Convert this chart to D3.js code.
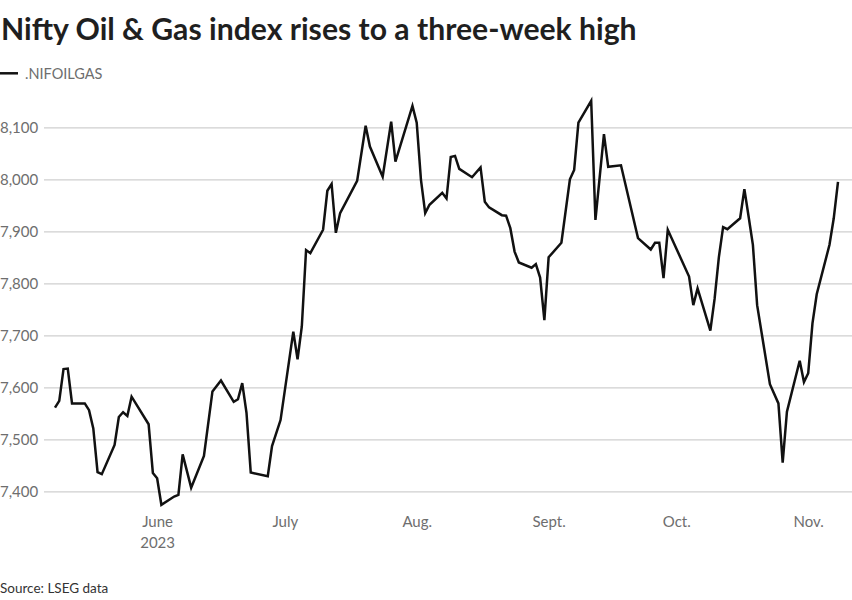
<!DOCTYPE html>
<html>
<head>
<meta charset="utf-8">
<script src="https://cdn.jsdelivr.net/npm/d3@7"></script>
<style>
  body { margin: 0; background: #fff; }
  svg { display: block; font-family: Lato, "Open Sans", sans-serif; }
</style>
</head>
<body>
<script>
// Trading-day closes (vertices of the line)
const dates = [
  "2023-05-08","2023-05-09","2023-05-10","2023-05-11","2023-05-12","2023-05-15","2023-05-16","2023-05-17",
  "2023-05-18","2023-05-19","2023-05-22","2023-05-23","2023-05-24","2023-05-25","2023-05-26","2023-05-30",
  "2023-05-31","2023-06-01","2023-06-02","2023-06-05","2023-06-06","2023-06-07","2023-06-09","2023-06-12",
  "2023-06-14","2023-06-16","2023-06-19","2023-06-20","2023-06-21","2023-06-22","2023-06-23","2023-06-27",
  "2023-06-28","2023-06-30","2023-07-03","2023-07-04","2023-07-05","2023-07-06","2023-07-07","2023-07-10",
  "2023-07-11","2023-07-12","2023-07-13","2023-07-14","2023-07-18","2023-07-20","2023-07-21","2023-07-24",
  "2023-07-26","2023-07-27","2023-07-31","2023-08-01","2023-08-02","2023-08-03","2023-08-04","2023-08-07",
  "2023-08-08","2023-08-09","2023-08-10","2023-08-11","2023-08-14","2023-08-16","2023-08-17","2023-08-18",
  "2023-08-21","2023-08-22","2023-08-23","2023-08-24","2023-08-25","2023-08-28","2023-08-29","2023-08-30",
  "2023-08-31","2023-09-01","2023-09-04","2023-09-06","2023-09-07","2023-09-08","2023-09-11","2023-09-12",
  "2023-09-14","2023-09-15","2023-09-18","2023-09-22","2023-09-25","2023-09-26","2023-09-27","2023-09-28",
  "2023-09-29","2023-10-04","2023-10-05","2023-10-06","2023-10-09","2023-10-10","2023-10-11","2023-10-12",
  "2023-10-13","2023-10-16","2023-10-17","2023-10-18","2023-10-19","2023-10-20","2023-10-23","2023-10-25",
  "2023-10-26","2023-10-27","2023-10-30","2023-10-31","2023-11-01","2023-11-02","2023-11-03","2023-11-06",
  "2023-11-07","2023-11-08"
];
const values = [
  7561, 7574, 7635, 7636, 7569, 7569, 7556, 7521,
  7437, 7433, 7489, 7543, 7552, 7545, 7582, 7529,
  7435, 7425, 7374, 7390, 7393, 7471, 7407, 7468,
  7592, 7613, 7572, 7577, 7608, 7551, 7436, 7429,
  7487, 7537, 7707, 7654, 7717, 7864, 7858, 7903,
  7978, 7991, 7897, 7935, 7997, 8103, 8063, 8005,
  8111, 8034, 8141, 8109, 7999, 7935, 7951, 7974,
  7963, 8043, 8045, 8020, 8004, 8023, 7957, 7946,
  7931, 7930, 7906, 7861, 7840, 7830, 7837, 7811,
  7729, 7850, 7878, 8000, 8018, 8109, 8151, 7922,
  8087, 8024, 8027, 7887, 7865, 7878, 7878, 7810,
  7903, 7813, 7758, 7790, 7709, 7770, 7850, 7908,
  7904, 7925, 7981, 7928, 7874, 7758, 7606, 7569,
  7455, 7553, 7651, 7610, 7627, 7723, 7779, 7874,
  7925, 7995
];
const yTicks = [7400, 7500, 7600, 7700, 7800, 7900, 8000, 8100];
const xTicks = ["2023-06-01", "2023-07-01", "2023-08-01", "2023-09-01", "2023-10-01", "2023-11-01"];
const xTickLabels = ["June", "July", "Aug.", "Sept.", "Oct.", "Nov."];
const seriesName = ".NIFOILGAS";
const title = "Nifty Oil & Gas index rises to a three-week high";
const source = "Source: LSEG data";

const width = 852;
const height = 600;
const gridLeft = 44;
const tickColor = "#6e6e6e";

const parse = d3.utcParse("%Y-%m-%d");
const data = dates.map((d, i) => ({ date: parse(d), value: values[i] }));

const x = d3.scaleUtc()
  .domain([parse("2023-05-08"), parse("2023-11-08")])
  .range([55, 838]);

const y = d3.scaleLinear()
  .domain([7400, 8100])
  .range([491.3, 127.3]);

const svg = d3.select("body").append("svg")
  .attr("width", width)
  .attr("height", height)
  .attr("viewBox", [0, 0, width, height]);

// Title, scaled to the reference width
const titleText = svg.append("text")
  .attr("x", 1)
  .attr("y", 39.5)
  .attr("fill", "#1f1f1f")
  .attr("font-weight", 700)
  .attr("font-size", 28)
  .text(title);
const tw = titleText.node().getComputedTextLength();
titleText.attr("font-size", 28 * 636 / tw);

// Legend
svg.append("line")
  .attr("x1", 0).attr("x2", 18)
  .attr("y1", 73.3).attr("y2", 73.3)
  .attr("stroke", "#111").attr("stroke-width", 2.5);
svg.append("text")
  .attr("x", 25)
  .attr("y", 79)
  .attr("fill", tickColor)
  .attr("font-size", 14.5)
  .text(seriesName);

// Horizontal grid with labels
const yAxis = svg.append("g")
  .attr("transform", `translate(${gridLeft},0)`)
  .call(d3.axisLeft(y).tickValues(yTicks).tickFormat(d3.format(",")).tickSize(-(width - gridLeft)).tickPadding(0))
  .call(g => g.select(".domain").remove());
yAxis.selectAll(".tick line").attr("stroke", "#cfcfcf").attr("stroke-width", 1.2);
yAxis.selectAll(".tick text")
  .attr("x", -gridLeft)
  .attr("text-anchor", "start")
  .attr("fill", tickColor)
  .attr("font-size", 15)
  .attr("font-family", "Lato, sans-serif");

// Month labels
const xAxis = svg.append("g")
  .attr("transform", "translate(0,491.3)")
  .call(d3.axisBottom(x).tickValues(xTicks.map(parse)).tickSize(0).tickPadding(0)
    .tickFormat((d, i) => xTickLabels[i]))
  .call(g => g.select(".domain").remove());
xAxis.selectAll(".tick text")
  .attr("y", 36)
  .attr("dy", 0)
  .attr("fill", tickColor)
  .attr("font-size", 15)
  .attr("font-family", "Lato, sans-serif");
xAxis.select(".tick text")
  .append("tspan")
  .attr("x", 0)
  .attr("dy", 21)
  .text("2023");

// Series line
const line = d3.line()
  .x(d => x(d.date))
  .y(d => y(d.value));

svg.append("path")
  .datum(data)
  .attr("fill", "none")
  .attr("stroke", "#111")
  .attr("stroke-width", 2.5)
  .attr("stroke-linejoin", "miter")
  .attr("d", line);

// Source
svg.append("text")
  .attr("x", 0)
  .attr("y", 593)
  .attr("fill", "#333")
  .attr("font-size", 13.5)
  .text(source);
</script>
</body>
</html>
